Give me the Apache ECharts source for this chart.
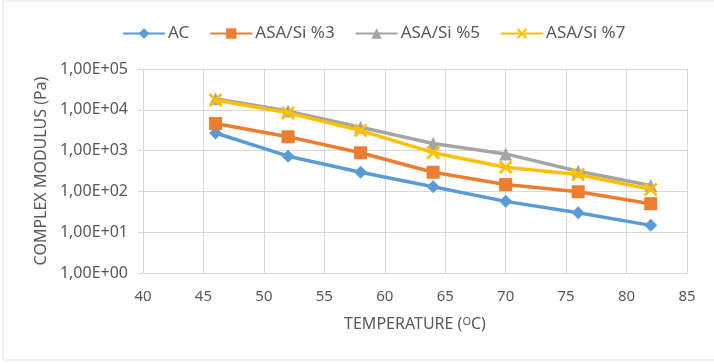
<!DOCTYPE html>
<html>
<head>
<meta charset="utf-8">
<script src="https://cdn.jsdelivr.net/npm/echarts@6/dist/echarts.min.js"></script>
<style>
  html, body { margin: 0; padding: 0; background: #fff; }
  #chart { width: 714px; height: 364px; }
</style>
</head>
<body>
<div id="chart"></div>
<script>
// temperatures (°C) on the x axis
const temps = [46, 52, 58, 64, 70, 76, 82];

// complex modulus (Pa)
const ac     = [2700, 730, 295, 130, 57, 30, 14.7];
const asa3   = [4600, 2180, 885, 295, 147, 98, 50];
const asa5   = [18600, 9300, 3750, 1490, 830, 313, 139];
const asa7   = [17300, 8400, 3100, 890, 390, 260, 112];

const names = ['AC', 'ASA/Si %3', 'ASA/Si %5', 'ASA/Si %7'];
const colors = ['#5B9BD5', '#ED7D31', '#A5A5A5', '#FFC000'];

const xMark = 'path://M0,1.4 L1.4,0 L5,3.6 L8.6,0 L10,1.4 L6.4,5 L10,8.6 L8.6,10 L5,6.4 L1.4,10 L0,8.6 L3.6,5 Z';
const symbols = ['diamond', 'rect', 'triangle', xMark];
const symbolSizes = [13, 13, 13, 14];

const font = 'Noto Sans';
const textColor = '#595959';
const gridColor = '#d9d9d9';

function pairs(vals) {
  return temps.map((t, i) => [t, vals[i]]);
}

const chart = echarts.init(document.getElementById('chart'));

chart.setOption({
  animation: false,
  textStyle: { fontFamily: font },
  graphic: [{
    type: 'rect',
    shape: { x: 3, y: 1, width: 720, height: 359 },
    style: { fill: 'none', stroke: '#e3e3e3', lineWidth: 1 },
    silent: true
  }],
  legend: {
    top: 20,
    left: 117,
    itemWidth: 42,
    itemHeight: 13,
    itemGap: 20,
    textStyle: { color: textColor, fontSize: 17, fontFamily: font, padding: [0, 0, 0, -2] },
    data: names
  },
  grid: { left: 143, right: 27, top: 69, bottom: 91 },
  xAxis: {
    type: 'value',
    min: 40,
    max: 85,
    interval: 5,
    name: '{a|TEMPERATURE (}{s|O}{a|C)}',
    nameLocation: 'middle',
    nameGap: 43,
    nameTextStyle: {
      rich: {
        a: { color: textColor, fontSize: 16, fontFamily: font },
        s: { color: textColor, fontSize: 11, fontFamily: font, verticalAlign: 'top', padding: [0, 0, 6, 0] }
      }
    },
    axisLine: { show: true, lineStyle: { color: gridColor } },
    axisTick: { show: false },
    axisLabel: { color: textColor, fontSize: 15, margin: 16 },
    splitLine: { show: true, lineStyle: { color: gridColor } }
  },
  yAxis: {
    type: 'log',
    logBase: 10,
    min: 1,
    max: 100000,
    name: 'COMPLEX MODULUS (Pa)',
    nameLocation: 'middle',
    nameGap: 94,
    nameTextStyle: { color: textColor, fontSize: 16, fontFamily: font },
    axisLine: { show: true, lineStyle: { color: gridColor } },
    axisTick: { show: true, length: 5, inside: false, lineStyle: { color: gridColor } },
    axisLabel: {
      color: textColor,
      fontSize: 16,
      margin: 15,
      formatter: function (v) {
        const e = Math.round(Math.log10(v));
        return '1,00E+' + String(e).padStart(2, '0');
      }
    },
    splitLine: { show: true, lineStyle: { color: gridColor } }
  },
  series: [ac, asa3, asa5, asa7].map((vals, i) => ({
    name: names[i],
    type: 'line',
    data: pairs(vals),
    symbol: symbols[i],
    symbolSize: symbolSizes[i],
    showAllSymbol: true,
    lineStyle: { width: 3.5, color: colors[i] },
    itemStyle: { color: colors[i] },
    z: 2 + i * 0.1
  }))
});
</script>
</body>
</html>
